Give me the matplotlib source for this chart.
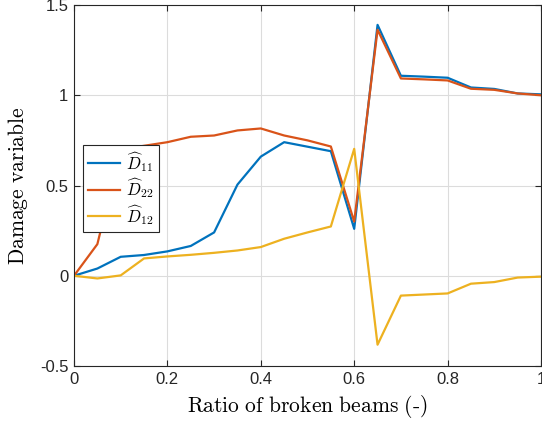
import matplotlib
matplotlib.use('Agg')
import matplotlib.pyplot as plt

plt.rcParams['font.family'] = ['Liberation Sans', 'DejaVu Sans']
plt.rcParams['mathtext.fontset'] = 'cm'
plt.rcParams['axes.unicode_minus'] = False

ratio = [0, 0.05, 0.1, 0.15, 0.2, 0.25, 0.3, 0.35, 0.4, 0.45, 0.5,
         0.55, 0.6, 0.65, 0.7, 0.75, 0.8, 0.85, 0.9, 0.95, 1.0]
d11 = [0, 0.04, 0.105, 0.115, 0.135, 0.165, 0.24, 0.505, 0.66, 0.74, 0.715,
       0.69, 0.26, 1.39, 1.108, 1.103, 1.097, 1.043, 1.035, 1.01, 1.005]
d22 = [0, 0.175, 0.70, 0.72, 0.74, 0.77, 0.777, 0.805, 0.816, 0.777, 0.75,
       0.716, 0.30, 1.363, 1.093, 1.088, 1.082, 1.036, 1.03, 1.01, 1.0]
d12 = [0, -0.015, 0.002, 0.096, 0.107, 0.116, 0.127, 0.14, 0.159, 0.205, 0.24,
       0.273, 0.703, -0.382, -0.11, -0.104, -0.098, -0.044, -0.035, -0.01, -0.005]
labels = [r'$\widehat{D}_{11}$', r'$\widehat{D}_{22}$', r'$\widehat{D}_{12}$']
colors = ['#0072BD', '#D95319', '#EDB120']

xticks = [0, 0.2, 0.4, 0.6, 0.8, 1]
xticklabels = ['0', '0.2', '0.4', '0.6', '0.8', '1']
yticks = [-0.5, 0, 0.5, 1, 1.5]
yticklabels = ['-0.5', '0', '0.5', '1', '1.5']

fig = plt.figure(figsize=(5.42, 4.28), dpi=100)
ax = fig.add_axes([74 / 542, 1 - 366 / 428, 467 / 542, 361 / 428])

for y, lab, c in zip([d11, d22, d12], labels, colors):
    ax.plot(ratio, y, color=c, lw=1.6, label=lab)

ax.set_xlim(0, 1)
ax.set_ylim(-0.5, 1.5)
ax.set_xticks(xticks)
ax.set_xticklabels(xticklabels)
ax.set_yticks(yticks)
ax.set_yticklabels(yticklabels)
ax.grid(True, color='#dcdcdc', lw=0.8)
ax.set_axisbelow(True)
ax.tick_params(direction='in', top=True, right=True, length=4, labelsize=12,
               colors='#262626', pad=4)
for s in ax.spines.values():
    s.set_color('#262626')
    s.set_linewidth(0.8)

ax.set_xlabel(r'$\mathrm{Ratio\ of\ broken\ beams\ (\text{-})}$', fontsize=15.5, labelpad=5)
ax.set_ylabel(r'$\mathrm{Damage\ variable}$', fontsize=15.5, labelpad=7)

leg = ax.legend(loc='upper left', bbox_to_anchor=(0.019, 0.612), fontsize=12,
                fancybox=False, framealpha=1, edgecolor='#262626',
                handlelength=1.9, handletextpad=0.4, borderpad=0.3,
                labelspacing=0.15, borderaxespad=0)
leg.get_frame().set_linewidth(0.8)

fig.savefig('out.png', dpi=100)
